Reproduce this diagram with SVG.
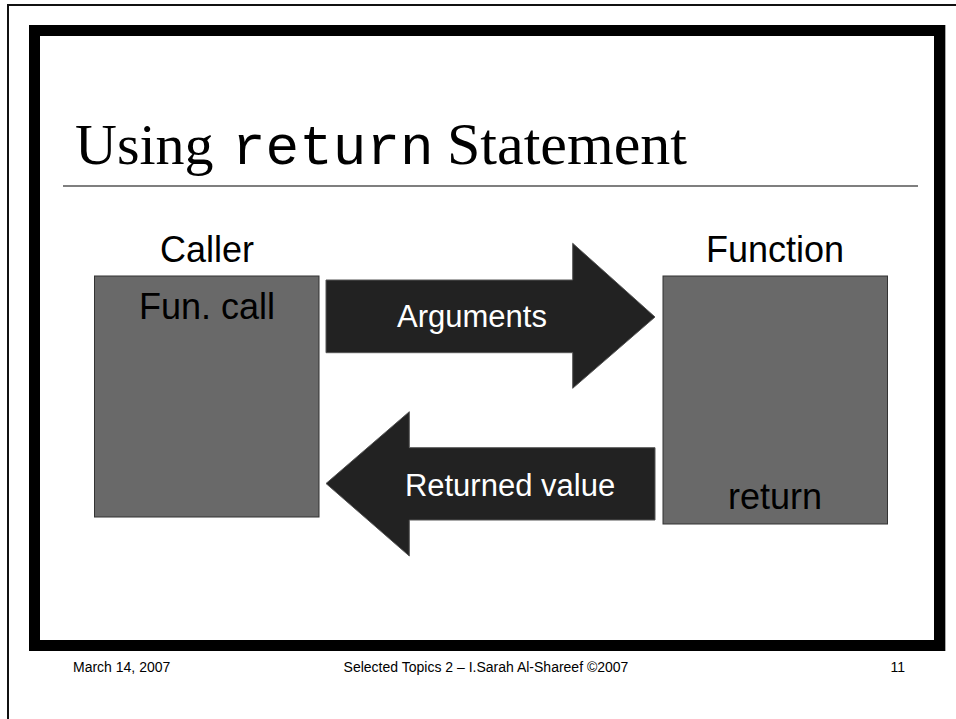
<svg xmlns="http://www.w3.org/2000/svg" width="956" height="719" viewBox="0 0 956 719">
<style>
.box{fill:#696969;stroke:#333;stroke-width:1}
.arrow{fill:#222;stroke:#555;stroke-width:1}
.lbl{font-family:"Liberation Sans",Arial,sans-serif;font-size:36px;fill:#000;text-anchor:middle}
.alb{font-family:"Liberation Sans",Arial,sans-serif;font-size:31px;fill:#fff;text-anchor:middle}
.ft{font-family:"Liberation Sans",Arial,sans-serif;font-size:14px;fill:#000}
.serif{font-family:"Liberation Serif","Times New Roman",serif;font-size:58px;fill:#000}
.mono{font-family:"Courier New","Liberation Mono",monospace;font-size:56px;fill:#000}
</style>
<rect width="956" height="719" fill="#fff"/>
<g id="page-frame">
<polyline points="8,719 8,5 956,5" fill="none" stroke="#111" stroke-width="2"/>
<rect x="34.5" y="30.5" width="905" height="615" fill="none" stroke="#000" stroke-width="11"/>
<line x1="945.5" y1="25" x2="945.5" y2="651" stroke="#aaa" stroke-width="1"/>
</g>
<g id="title">
<text class="serif" x="75" y="164">Using</text>
<text class="mono" x="232" y="164">return</text>
<text class="serif" x="447" y="164" style="font-size:60px">Statement</text>
<line x1="63" y1="186" x2="918" y2="186" stroke="#555" stroke-width="1.5"/>
</g>
<g id="caller">
<text class="lbl" x="207" y="262">Caller</text>
<rect class="box" x="94.5" y="276" width="224.5" height="241"/>
<text class="lbl" x="207" y="319">Fun. call</text>
</g>
<g id="function">
<text class="lbl" x="775" y="262">Function</text>
<rect class="box" x="663" y="276" width="224.5" height="248"/>
<text class="lbl" x="775" y="509">return</text>
</g>
<g id="connectors">
<g id="arguments">
<polygon class="arrow" points="326,280 572.7,280 572.7,243.3 655,317 572.7,388.3 572.7,352.7 326,352.7"/>
<text class="alb" x="472" y="327">Arguments</text>
</g>
<g id="returned-value">
<polygon class="arrow" points="655,447.7 409.3,447.7 409.3,411.7 326,483.5 409.3,556 409.3,520 655,520"/>
<text class="alb" x="510" y="496">Returned value</text>
</g>
</g>
<g id="footer">
<text class="ft" x="73" y="672">March 14, 2007</text>
<text class="ft" x="486" y="672" text-anchor="middle">Selected Topics 2 – I.Sarah Al-Shareef ©2007</text>
<text class="ft" x="905" y="672" text-anchor="end">11</text>
</g>
</svg>
